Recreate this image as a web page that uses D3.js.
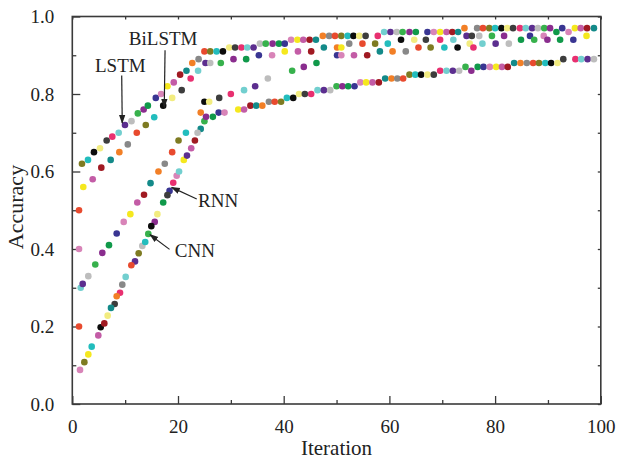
<!DOCTYPE html>
<html><head><meta charset="utf-8">
<script src="https://cdn.jsdelivr.net/npm/d3@7/dist/d3.min.js"></script>
<style>
body{margin:0;background:#fff}
svg{display:block}
text{font-family:"Liberation Serif","DejaVu Serif",serif;fill:#222}
</style>
</head><body>
<svg id="chart" width="619" height="460"></svg>
<script>
// ---- data (iteration, accuracy) ----
const xTicks = [0, 20, 40, 60, 80, 100];
const xMinorTicks = [10, 30, 50, 70, 90];
const yTicks = [0, 0.2, 0.4, 0.6, 0.8, 1.0];
const yMinorTicks = [0.1, 0.3, 0.5, 0.7, 0.9];
const xLabel = "Iteration";
const yLabel = "Accuracy";

const lstm = [[1.27,.50],[1.83,.62],[2.97,.63],[4.1,.65],[5.24,.66],[6.5,.68],[7.57,.69],[8.78,.70],[9.97,.72],[11.2,.73],[12.4,.75],[13.5,.76],[14.3,.77],[15.8,.79],[16.8,.80],[18.0,.82],[19.2,.83],[20.4,.85],[21.6,.86],[22.7,.88],[23.9,.89],[25.0,.91],[26.1,.91],[27.3,.91],[28.5,.91],[29.7,.92],[30.8,.92],[32.0,.92],[33.1,.92],[34.3,.92],[35.5,.93],[36.6,.93],[37.9,.93],[39.1,.93],[40.2,.93],[41.4,.94],[42.6,.94],[43.7,.94],[44.9,.94],[46.1,.94],[47.4,.95],[48.6,.95],[49.7,.95],[50.9,.95],[52.1,.95],[53.2,.95],[54.3,.95],[55.5,.95],[57.8,.95],[59.0,.96],[60.2,.96],[61.4,.96],[62.5,.96],[63.8,.96],[65.0,.96],[67.2,.96],[68.4,.96],[69.6,.96],[70.8,.96],[71.9,.96],[73.0,.96],[74.2,.97],[76.6,.97],[77.7,.97],[78.9,.97],[80.0,.97],[81.2,.97],[82.3,.97],[83.4,.97],[84.7,.97],[85.8,.97],[87.0,.97],[88.1,.97],[89.3,.97],[90.4,.97],[91.6,.96],[92.7,.97],[93.9,.96],[95.1,.97],[96.2,.97],[97.4,.97],[98.7,.97]];

const bilstm = [[1.27,.40],[2.08,.56],[3.86,.58],[5.49,.61],[7.26,.63],[8.9,.65],[10.5,.67],[12.2,.70],[13.9,.72],[15.5,.74],[17.2,.77],[18.9,.79],[20.7,.81],[22.4,.84],[23.8,.86],[25.2,.88],[26.1,.88],[28.1,.88],[30.5,.89],[32.9,.89],[35.3,.90],[37.8,.90],[40.2,.91],[42.7,.91],[45.2,.91],[47.6,.92],[50.1,.92],[52.4,.93],[54.9,.93],[57.3,.93],[59.7,.93],[62.2,.94],[64.7,.94],[66.9,.94],[69.6,.94],[72.1,.94],[74.6,.95],[77.0,.95],[79.4,.95],[81.7,.95],[84.9,.94],[86.6,.95],[89.2,.95],[97.3,.95]];

const thirdCurve = [[1.59,.30],[1.97,.31],[3.03,.33],[4.35,.36],[5.68,.39],[6.94,.41],[8.4,.44],[9.73,.47],[10.98,.49],[12.3,.52],[13.57,.54],[14.8,.57],[16.3,.60],[17.5,.62],[18.9,.65],[20.1,.68],[21.5,.70],[25.0,.78],[25.9,.78],[27.8,.79],[30.0,.80],[32.5,.81],[34.6,.82],[37.0,.84],[41.6,.86],[43.8,.87],[46.2,.88],[50.1,.90],[50.9,.90],[50.9,.92],[53.3,.90],[55.8,.90],[58.2,.91],[60.6,.91],[63.1,.91],[65.5,.92],[67.8,.92],[70.4,.92],[72.9,.92],[75.2,.93],[75.6,.95],[75.9,.92],[77.6,.93],[80.1,.93],[82.6,.93],[87.4,.94],[89.9,.94],[92.3,.94],[94.8,.94]];

const rnn = [[1.27,.20],[2.28,.108],[3.67,.148],[5.37,.198],[6.69,.228],[8.02,.258],[9.03,.287],[10.1,.328],[11.87,.368],[13.25,.408],[14.38,.439],[15.6,.47],[17.2,.52],[18.4,.55],[19.75,.589],[21.1,.63],[22.5,.66],[23.2,.68],[24.3,.71],[24.3,.752]];

const cnn = [[1.46,.088],[3.03,.128],[4.92,.177],[6.06,.208],[7.32,.248],[8.4,.278],[9.46,.308],[11.17,.358],[12.56,.389],[13.8,.418],[14.95,.459],[16.1,.49],[18.0,.539],[19.1,.571],[20.2,.60],[21.7,.641],[23.7,.70],[25.0,.73],[25.3,.741],[26.6,.741],[27.7,.752],[28.8,.752],[31.4,.76],[32.5,.76],[33.7,.77],[34.8,.77],[35.95,.77],[37.2,.78],[38.3,.78],[39.5,.78],[40.6,.79],[41.8,.79],[42.9,.80],[44.0,.80],[45.2,.80],[46.4,.81],[47.6,.81],[48.8,.81],[50.0,.82],[51.1,.82],[52.2,.82],[53.4,.82],[54.5,.83],[55.6,.83],[56.8,.83],[58.0,.83],[59.2,.84],[60.4,.84],[61.5,.84],[62.6,.84],[63.8,.85],[64.9,.85],[66.0,.85],[67.2,.85],[68.4,.85],[69.6,.86],[70.8,.86],[72.0,.86],[73.2,.86],[74.4,.87],[75.5,.86],[76.7,.87],[77.8,.87],[79.0,.87],[80.2,.87],[81.3,.87],[82.4,.87],[83.6,.88],[84.8,.88],[86.0,.88],[87.2,.88],[88.3,.88],[89.5,.88],[90.6,.88],[91.8,.88],[92.9,.89],[95.2,.89],[96.3,.89],[97.5,.89],[98.7,.89]];

const allSeries = [lstm, bilstm, thirdCurve, rnn, cnn];

// annotation labels with arrow start/end in data space
const annotations = [
  {text:"LSTM",   tx:4.3,  ty:0.857, x1:9.35, y1:0.848, x2:9.45, y2:0.725},
  {text:"BiLSTM", tx:10.7, ty:0.926, x1:17.55,y1:0.913, x2:17.4, y2:0.766},
  {text:"RNN",    tx:23.8, ty:0.508, x1:23.55,y1:0.529, x2:18.8, y2:0.559},
  {text:"CNN",    tx:19.4, ty:0.379, x1:18.4, y1:0.399, x2:14.7, y2:0.437}
];

const palette = ["#e84a2e","#a01a22","#393592","#bdbdbd","#3d3d3d","#7e7b22","#138a89","#d884b8","#37b14c","#e83070","#22bdbd","#f27f26","#f5e81e","#8a2d8e","#72cfcf","#0c0c0c","#888888","#c35ca6","#10994a","#5c2e8f","#f2ec80"];

// ---- drawing ----
const svg = d3.select("#chart");
const L = 72.3, R = 600.8, T = 16.5, B = 404;
const x = d3.scaleLinear().domain([0,100]).range([L,R]);
const y = d3.scaleLinear().domain([0,1]).range([B,T]);
const axisColor = "#3a3a3a";

function styleAxis(g){
  g.select(".domain").remove();
  g.selectAll(".tick line").attr("stroke",axisColor).attr("stroke-width",1.3);
  g.selectAll(".tick text").style("font-family",'"Liberation Serif","DejaVu Serif",serif').style("font-size","19px").attr("fill","#222");
}

// bottom
svg.append("g").attr("transform",`translate(0,${B})`)
  .call(d3.axisBottom(x).tickValues(xTicks).tickFormat(d3.format("d")).tickSizeInner(-8).tickSizeOuter(0).tickPadding(16))
  .call(styleAxis);
svg.append("g").attr("transform",`translate(0,${B})`)
  .call(d3.axisBottom(x).tickValues(xMinorTicks).tickFormat("").tickSizeInner(-4).tickSizeOuter(0))
  .call(styleAxis);
// left
svg.append("g").attr("transform",`translate(${L},0)`)
  .call(d3.axisLeft(y).tickValues(yTicks).tickFormat(d3.format(".1f")).tickSizeInner(-8).tickSizeOuter(0).tickPadding(18))
  .call(styleAxis);
svg.append("g").attr("transform",`translate(${L},0)`)
  .call(d3.axisLeft(y).tickValues(yMinorTicks).tickFormat("").tickSizeInner(-4).tickSizeOuter(0))
  .call(styleAxis);
// top
svg.append("g").attr("transform",`translate(0,${T})`)
  .call(d3.axisTop(x).tickValues(xTicks.concat(xMinorTicks)).tickFormat("").tickSizeInner(-3).tickSizeOuter(0))
  .call(styleAxis);
// right
svg.append("g").attr("transform",`translate(${R},0)`)
  .call(d3.axisRight(y).tickValues(yTicks.concat(yMinorTicks)).tickFormat("").tickSizeInner(-3).tickSizeOuter(0))
  .call(styleAxis);

// frame
svg.append("rect").attr("x",L).attr("y",T).attr("width",R-L).attr("height",B-T)
  .attr("fill","none").attr("stroke",axisColor).attr("stroke-width",1.6);

// points
allSeries.forEach((s, si) => {
  svg.append("g").selectAll("circle").data(s).join("circle")
    .attr("cx", d => x(d[0])).attr("cy", d => y(d[1])).attr("r", 3.3)
    .attr("fill", (d,i) => palette[(i*5 + si*7) % palette.length]);
});

// axis titles
svg.append("text").attr("x",(L+R)/2).attr("y",455).attr("text-anchor","middle")
  .style("font-size","21px").text(xLabel);
svg.append("text").attr("transform",`translate(23,207) rotate(-90)`).attr("text-anchor","middle")
  .style("font-size","22px").text(yLabel);

// annotations
const defs = svg.append("defs");
defs.append("marker").attr("id","arr").attr("viewBox","0 0 10 10").attr("refX",9).attr("refY",5)
  .attr("markerWidth",9).attr("markerHeight",9).attr("markerUnits","userSpaceOnUse").attr("orient","auto")
  .append("path").attr("d","M0,1.5 L10,5 L0,8.5 Z").attr("fill","#222");
annotations.forEach(a => {
  svg.append("line").attr("x1",x(a.x1)).attr("y1",y(a.y1)).attr("x2",x(a.x2)).attr("y2",y(a.y2))
    .attr("stroke","#222").attr("stroke-width",1.2).attr("marker-end","url(#arr)");
  svg.append("text").attr("x",x(a.tx)).attr("y",y(a.ty)).style("font-size","19px").text(a.text);
});
</script>
</body></html>
